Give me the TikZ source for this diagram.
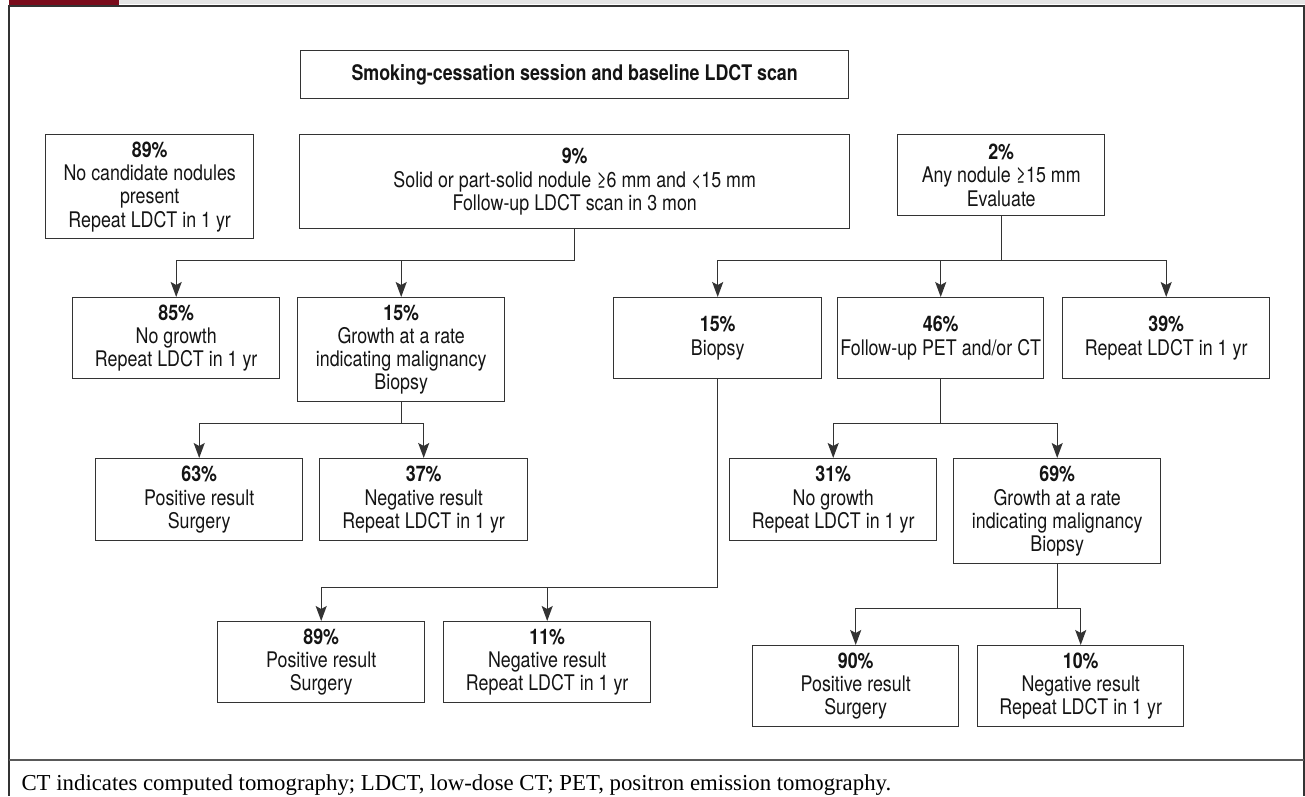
\documentclass[tikz,border=0pt]{standalone}
\usepackage{fontspec}
\setmainfont{TeX Gyre Heros}[FakeStretch=0.83]
\newfontfamily\capfont{Liberation Serif}
\usetikzlibrary{arrows.meta}

\definecolor{framered}{HTML}{7A0C1C}
\definecolor{linegray}{HTML}{333333}

\tikzset{
  box/.style={draw=linegray, line width=1.4pt, align=center, anchor=north west,
    inner sep=2pt, text=black!92, font=\fontsize{21.5}{23.3}\selectfont},
  arr/.style={draw=linegray, line width=1.4pt,
    -{Stealth[length=15pt,width=11pt,inset=3pt]}},
}

\begin{document}
\begin{tikzpicture}[x=1pt,y=-1pt]
    \useasboundingbox (0,0) rectangle (1305,796);
    % frame:
    \fill[gray!20] (119,0) rectangle (1305,4);
    \fill[framered] (9,0) rectangle (119,5);
    \draw[line width=2pt, black!80] (1305,5.5) -- (8.5,5.5) -- (8.5,796);
    \draw[line width=2pt, black!80] (1303.5,5.5) -- (1303.5,796);
    \draw[line width=2pt, black!65] (8.5,760) -- (1303.5,760);
    % top:
    \node[box, minimum width=548pt, minimum height=48pt] (title) at (300,50)
        {\textbf{Smoking-cessation session and baseline LDCT scan}};
    \node[box, minimum width=208pt, minimum height=104pt] (none) at (45,134)
        {\textbf{89\%}\\No candidate nodules\\present\\Repeat LDCT in 1 yr};
    \node[box, minimum width=550pt, minimum height=94pt] (nine) at (299,134)
        {\textbf{9\%}\\Solid or part-solid nodule ≥6 mm and <15 mm\\Follow-up LDCT scan in 3 mon};
    \node[box, minimum width=207pt, minimum height=81pt] (two) at (897,134)
        {\textbf{2\%}\\Any nodule ≥15 mm\\Evaluate};
    % second row:
    \node[box, minimum width=207pt, minimum height=81pt] (nogrow) at (72,297)
        {\textbf{85\%}\\No growth\\Repeat LDCT in 1 yr};
    \node[box, minimum width=207pt, minimum height=104pt] (growth) at (297,297)
        {\textbf{15\%}\\Growth at a rate\\indicating malignancy\\Biopsy};
    \node[box, minimum width=208pt, minimum height=81pt] (biopsy) at (613,297)
        {\textbf{15\%}\\Biopsy};
    \node[box, minimum width=206pt, minimum height=81pt] (petct) at (837,297)
        {\textbf{46\%}\\Follow-up PET and/or CT};
    \node[box, minimum width=207pt, minimum height=81pt] (repeat) at (1062,297)
        {\textbf{39\%}\\Repeat LDCT in 1 yr};
    % third row:
    \node[box, minimum width=207pt, minimum height=82pt] (posA) at (95,458)
        {\textbf{63\%}\\Positive result\\Surgery};
    \node[box, minimum width=208pt, minimum height=82pt] (negA) at (319,458)
        {\textbf{37\%}\\Negative result\\Repeat LDCT in 1 yr};
    \node[box, minimum width=207pt, minimum height=82pt] (nogrowB) at (729,458)
        {\textbf{31\%}\\No growth\\Repeat LDCT in 1 yr};
    \node[box, minimum width=207pt, minimum height=105pt] (growthB) at (953,458)
        {\textbf{69\%}\\Growth at a rate\\indicating malignancy\\Biopsy};
    % bottom row:
    \node[box, minimum width=207pt, minimum height=81pt] (posB) at (217,621)
        {\textbf{89\%}\\Positive result\\Surgery};
    \node[box, minimum width=207pt, minimum height=81pt] (negB) at (443,621)
        {\textbf{11\%}\\Negative result\\Repeat LDCT in 1 yr};
    \node[box, minimum width=206pt, minimum height=81pt] (posC) at (752,645)
        {\textbf{90\%}\\Positive result\\Surgery};
    \node[box, minimum width=206pt, minimum height=81pt] (negC) at (977,645)
        {\textbf{10\%}\\Negative result\\Repeat LDCT in 1 yr};
    % arrows:
    \draw[arr] (nine.south) -- ++(0,31) -| (nogrow.north);
    \draw[arr] (nine.south) -- ++(0,31) -| (growth.north);
    \draw[arr] (two.south) -- ++(0,44) -| (biopsy.north);
    \draw[arr] (two.south) -- ++(0,44) -| (petct.north);
    \draw[arr] (two.south) -- ++(0,44) -| (repeat.north);
    \draw[arr] (growth.south) -- ++(0,21) -| (posA.north);
    \draw[arr] (growth.south) -- ++(0,21) -| (negA.north);
    \draw[arr] (biopsy.south) -- ++(0,208) -| (posB.north);
    \draw[arr] (biopsy.south) -- ++(0,208) -| (negB.north);
    \draw[arr] (petct.south) -- ++(0,44) -| (nogrowB.north);
    \draw[arr] (petct.south) -- ++(0,44) -| (growthB.north);
    \draw[arr] (growthB.south) -- ++(0,44) -| (posC.north);
    \draw[arr] (growthB.south) -- ++(0,44) -| (negC.north);
    % note:
    \node[anchor=base west, font=\capfont\fontsize{22.8}{27}\selectfont] (note) at (18,790)
        {CT indicates computed tomography; LDCT, low-dose CT; PET, positron emission tomography.};
\end{tikzpicture}
\end{document}
